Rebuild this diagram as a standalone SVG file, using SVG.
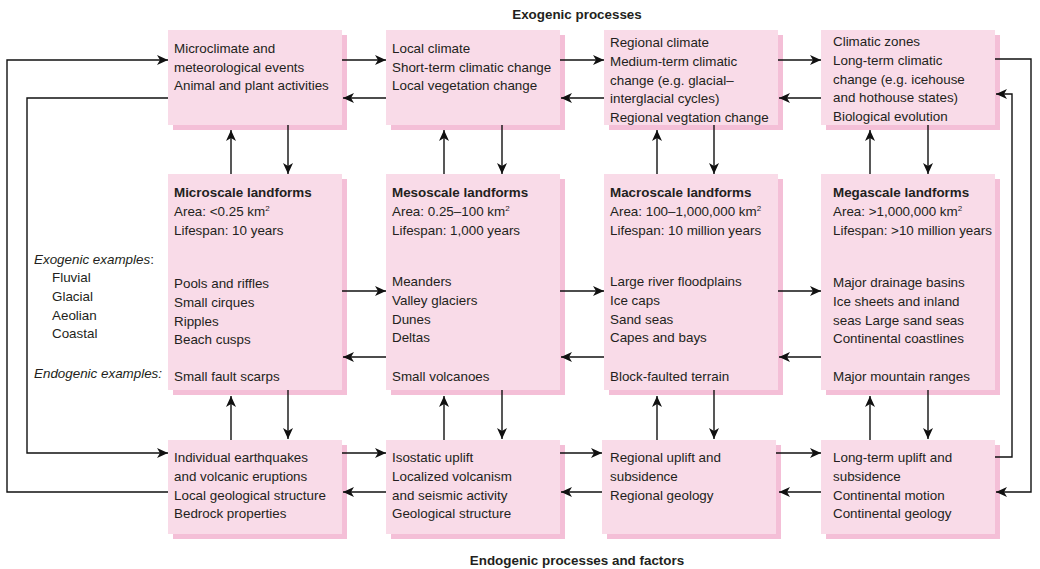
<svg xmlns="http://www.w3.org/2000/svg" width="1040" height="569" viewBox="0 0 1040 569">
<style>
.box{fill:#f9dbe8}
.sh{fill:#f4bfd7}
text{font-family:"Liberation Sans",Arial,sans-serif;font-size:13.4px;fill:#231f20}
.b{font-weight:bold}
.i{font-style:italic}
.sup{font-size:8px}
.c{fill:none;stroke:#111;stroke-width:1.4}
</style>
<defs>
<marker id="ah" markerUnits="userSpaceOnUse" markerWidth="12" markerHeight="10" viewBox="0 0 12 10" refX="11" refY="5" orient="auto">
<path d="M0,0 L11,5 L0,10 L3,5 z" fill="#111"/>
</marker>
</defs>
<text x="577" y="19" text-anchor="middle" class="b">Exogenic processes</text>
<text x="577" y="565" text-anchor="middle" class="b">Endogenic processes and factors</text>
<g id="left-labels">
<text x="34" y="264"><tspan class="i">Exogenic examples</tspan>:</text>
<text x="52" y="282">Fluvial</text>
<text x="52" y="301">Glacial</text>
<text x="52" y="320">Aeolian</text>
<text x="52" y="338">Coastal</text>
<text x="34" y="378" class="i">Endogenic examples:</text>
</g>
<g id="ex-micro">
<rect class="sh" x="173" y="35" width="174" height="95"/>
<rect class="box" x="168" y="30" width="174" height="95"/>
<text x="174" y="53">Microclimate and</text>
<text x="174" y="71.5">meteorological events</text>
<text x="174" y="90">Animal and plant activities</text>
</g>
<g id="ex-meso">
<rect class="sh" x="391" y="35" width="174" height="95"/>
<rect class="box" x="386" y="30" width="174" height="95"/>
<text x="392" y="53">Local climate</text>
<text x="392" y="71.5">Short-term climatic change</text>
<text x="392" y="90">Local vegetation change</text>
</g>
<g id="ex-macro">
<rect class="sh" x="609" y="35" width="174" height="95"/>
<rect class="box" x="604" y="30" width="174" height="95"/>
<text x="610" y="47">Regional climate</text>
<text x="610" y="66">Medium-term climatic</text>
<text x="610" y="85">change (e.g. glacial–</text>
<text x="610" y="103">interglacial cycles)</text>
<text x="610" y="122">Regional vegtation change</text>
</g>
<g id="ex-mega">
<rect class="sh" x="826" y="35" width="174" height="95"/>
<rect class="box" x="821" y="30" width="174" height="95"/>
<text x="833" y="46">Climatic zones</text>
<text x="833" y="65">Long-term climatic</text>
<text x="833" y="84">change (e.g. icehouse</text>
<text x="833" y="102">and hothouse states)</text>
<text x="833" y="121">Biological evolution</text>
</g>
<g id="lf-micro">
<rect class="sh" x="173" y="179" width="174" height="216"/>
<rect class="box" x="168" y="174" width="174" height="216"/>
<text x="174" y="197" class="b">Microscale landforms</text>
<text x="174" y="216">Area: &lt;0.25 km<tspan class="sup" dy="-5">2</tspan></text>
<text x="174" y="234.5">Lifespan: 10 years</text>
<text x="174" y="288">Pools and riffles</text>
<text x="174" y="307">Small cirques</text>
<text x="174" y="325.5">Ripples</text>
<text x="174" y="344">Beach cusps</text>
<text x="174" y="381">Small fault scarps</text>
</g>
<g id="lf-meso">
<rect class="sh" x="391" y="179" width="174" height="216"/>
<rect class="box" x="386" y="174" width="174" height="216"/>
<text x="392" y="197" class="b">Mesoscale landforms</text>
<text x="392" y="216">Area: 0.25–100 km<tspan class="sup" dy="-5">2</tspan></text>
<text x="392" y="234.5">Lifespan: 1,000 years</text>
<text x="392" y="286">Meanders</text>
<text x="392" y="305">Valley glaciers</text>
<text x="392" y="324">Dunes</text>
<text x="392" y="342">Deltas</text>
<text x="392" y="381">Small volcanoes</text>
</g>
<g id="lf-macro">
<rect class="sh" x="609" y="179" width="174" height="216"/>
<rect class="box" x="604" y="174" width="174" height="216"/>
<text x="610" y="197" class="b">Macroscale landforms</text>
<text x="610" y="216">Area: 100–1,000,000 km<tspan class="sup" dy="-5">2</tspan></text>
<text x="610" y="234.5">Lifespan: 10 million years</text>
<text x="610" y="286">Large river floodplains</text>
<text x="610" y="305">Ice caps</text>
<text x="610" y="324">Sand seas</text>
<text x="610" y="342">Capes and bays</text>
<text x="610" y="381">Block-faulted terrain</text>
</g>
<g id="lf-mega">
<rect class="sh" x="826" y="179" width="174" height="216"/>
<rect class="box" x="821" y="174" width="174" height="216"/>
<text x="833" y="197" class="b">Megascale landforms</text>
<text x="833" y="216">Area: &gt;1,000,000 km<tspan class="sup" dy="-5">2</tspan></text>
<text x="833" y="234.5">Lifespan: &gt;10 million years</text>
<text x="833" y="287">Major drainage basins</text>
<text x="833" y="306">Ice sheets and inland</text>
<text x="833" y="325">seas Large sand seas</text>
<text x="833" y="343">Continental coastlines</text>
<text x="833" y="381">Major mountain ranges</text>
</g>
<g id="en-micro">
<rect class="sh" x="173" y="445" width="174" height="94"/>
<rect class="box" x="168" y="440" width="174" height="94"/>
<text x="174" y="462">Individual earthquakes</text>
<text x="174" y="481">and volcanic eruptions</text>
<text x="174" y="500">Local geological structure</text>
<text x="174" y="518">Bedrock properties</text>
</g>
<g id="en-meso">
<rect class="sh" x="391" y="445" width="174" height="94"/>
<rect class="box" x="386" y="440" width="174" height="94"/>
<text x="392" y="462">Isostatic uplift</text>
<text x="392" y="481">Localized volcanism</text>
<text x="392" y="500">and seismic activity</text>
<text x="392" y="518">Geological structure</text>
</g>
<g id="en-macro">
<rect class="sh" x="607" y="445" width="174" height="94"/>
<rect class="box" x="602" y="440" width="174" height="94"/>
<text x="610" y="462">Regional uplift and</text>
<text x="610" y="481">subsidence</text>
<text x="610" y="500">Regional geology</text>
</g>
<g id="en-mega">
<rect class="sh" x="826" y="445" width="174" height="94"/>
<rect class="box" x="821" y="440" width="174" height="94"/>
<text x="833" y="462">Long-term uplift and</text>
<text x="833" y="481">subsidence</text>
<text x="833" y="500">Continental motion</text>
<text x="833" y="518">Continental geology</text>
</g>
<g id="connectors">
<path class="c" marker-end="url(#ah)" d="M342,60 H386"/>
<path class="c" marker-end="url(#ah)" d="M386,98 H343"/>
<path class="c" marker-end="url(#ah)" d="M560,60 H604"/>
<path class="c" marker-end="url(#ah)" d="M604,98 H561"/>
<path class="c" marker-end="url(#ah)" d="M778,60 H821"/>
<path class="c" marker-end="url(#ah)" d="M821,98 H779"/>
<path class="c" marker-end="url(#ah)" d="M342,291 H386"/>
<path class="c" marker-end="url(#ah)" d="M386,357 H343"/>
<path class="c" marker-end="url(#ah)" d="M560,291 H604"/>
<path class="c" marker-end="url(#ah)" d="M604,357 H561"/>
<path class="c" marker-end="url(#ah)" d="M778,291 H821"/>
<path class="c" marker-end="url(#ah)" d="M821,357 H779"/>
<path class="c" marker-end="url(#ah)" d="M342,453 H386"/>
<path class="c" marker-end="url(#ah)" d="M386,492 H343"/>
<path class="c" marker-end="url(#ah)" d="M560,453 H602"/>
<path class="c" marker-end="url(#ah)" d="M602,492 H561"/>
<path class="c" marker-end="url(#ah)" d="M776,453 H821"/>
<path class="c" marker-end="url(#ah)" d="M821,492 H779"/>
<path class="c" marker-end="url(#ah)" d="M231,174 V130"/>
<path class="c" marker-end="url(#ah)" d="M288,125 V174"/>
<path class="c" marker-end="url(#ah)" d="M444,174 V130"/>
<path class="c" marker-end="url(#ah)" d="M502,125 V174"/>
<path class="c" marker-end="url(#ah)" d="M657,174 V130"/>
<path class="c" marker-end="url(#ah)" d="M714,125 V174"/>
<path class="c" marker-end="url(#ah)" d="M870,174 V130"/>
<path class="c" marker-end="url(#ah)" d="M928,125 V174"/>
<path class="c" marker-end="url(#ah)" d="M231,440 V396"/>
<path class="c" marker-end="url(#ah)" d="M288,390 V439"/>
<path class="c" marker-end="url(#ah)" d="M444,440 V396"/>
<path class="c" marker-end="url(#ah)" d="M502,390 V439"/>
<path class="c" marker-end="url(#ah)" d="M657,440 V396"/>
<path class="c" marker-end="url(#ah)" d="M714,390 V439"/>
<path class="c" marker-end="url(#ah)" d="M870,440 V396"/>
<path class="c" marker-end="url(#ah)" d="M928,390 V439"/>
<path class="c" marker-end="url(#ah)" d="M168,492 H7 V60 H168"/>
<path class="c" marker-end="url(#ah)" d="M168,98 H27 V453 H168"/>
<path class="c" marker-end="url(#ah)" d="M995,59 H1031 V492 H996"/>
<path class="c" marker-end="url(#ah)" d="M995,457 H1012 V94 H996"/>
</g>
</svg>
